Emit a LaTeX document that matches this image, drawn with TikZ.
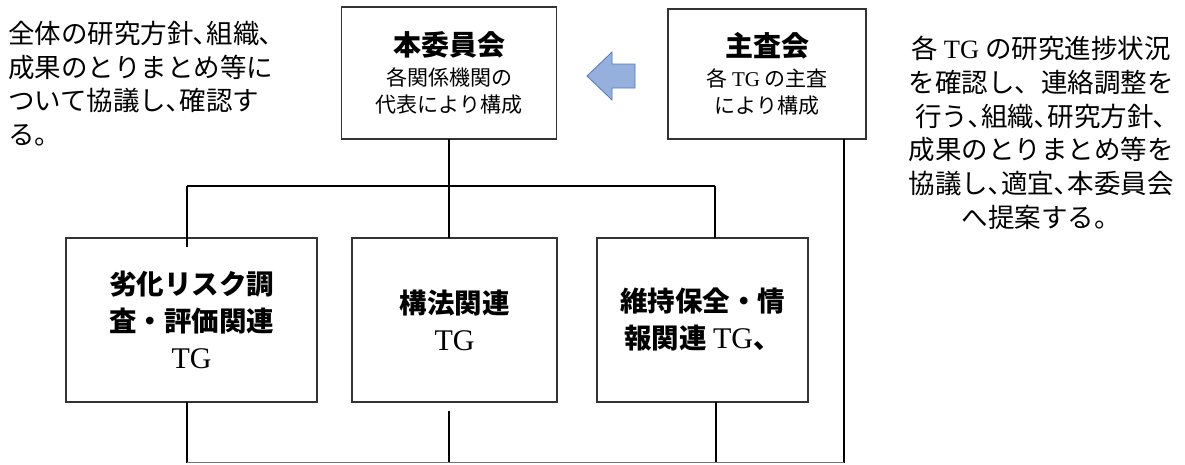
\documentclass[tikz,border=0pt]{standalone}
\usepackage{fontspec}
\setmainfont{Liberation Serif}
\newfontfamily\jp{Noto Sans CJK JP}
\newcommand\tgx{{\rmfamily\mdseries TG}}
\newcommand\tgbig{{\rmfamily\mdseries\fontsize{30}{37}\selectfont TG}}
\definecolor{arrfill}{RGB}{150,176,222}
\definecolor{arrline}{RGB}{80,120,196}
\begin{document}
\begin{tikzpicture}[x=1pt,y=-1pt,
  box/.style={draw=black!80, line width=1.4pt, inner sep=0pt, outer sep=0pt, align=center},
  tgbox/.style={box, minimum height=164pt, font=\fontsize{27.5}{37}\selectfont\jp\bfseries},
  topbox/.style={box, font=\fontsize{21}{27}\selectfont\jp},
  conn/.style={draw=black, line width=1.9pt},
  para/.style={inner sep=0pt, font=\fontsize{26.5}{33.7}\selectfont\jp}
]
\useasboundingbox (0,0) rectangle (1185,464);

% top boxes
\node[topbox, minimum width=215pt, minimum height=132pt] (hon) at (449,73)
  {{\fontsize{28}{28}\selectfont\bfseries 本委員会}\\[3pt]各関係機関の\\代表により構成};
\node[topbox, minimum width=198pt, minimum height=130pt] (shusa) at (767,74)
  {{\fontsize{28}{28}\selectfont\bfseries 主査会}\\[3pt]各 \tgx{} の主査\\により構成};

% arrow
\draw[fill=arrfill, draw=arrline, line width=0.8pt, line join=miter]
  (587,76) -- (612,52) -- (612,64) -- (635,64) -- (635,88) -- (612,88) -- (612,100) -- cycle;

% TG boxes
\node[tgbox, minimum width=251pt] (tgA) at (191.5,320) {劣化リスク調\\査・評価関連\\\tgbig};
\node[tgbox, minimum width=205pt] (tgB) at (454.5,320) {構法関連\\\tgbig};
\node[tgbox, minimum width=211pt] (tgC) at (702.5,320) {維持保全・情\\報関連 \tgbig、};

% side texts
\node[para, anchor=north west, align=left] (left) at (8,21)
  {全体の研究方針､組織､\\成果のとりまとめ等に\\ついて協議し､確認す\\る。};
\node[para, anchor=north, align=center] (right) at (1041,36)
  {各 \tgx{} の研究進捗状況\\を確認し、連絡調整を\\行う､組織､研究方針､\\成果のとりまとめ等を\\協議し､適宜､本委員会\\へ提案する。};

% connectors
\coordinate (aT) at (187,186);
\coordinate (cT) at (715,186);
\coordinate (aIn) at (187,247);
\coordinate (bL) at (187,462.5);
\coordinate (bM) at (449,462.5);
\coordinate (bC) at (716,462.5);
\coordinate (bR) at (844,462.5);

\draw[conn] (hon.south) -- (hon.south |- tgB.north);
\draw[conn] (aT) -- (cT);
\draw[conn] (aT) -- (aIn);
\draw[conn] (cT) -- (cT |- tgC.north);
\draw[conn] ([xshift=-22pt]shusa.south east) -- (bR);
\draw[conn] (tgA.south -| bL) -- (bL);
\draw[conn] ([yshift=-9pt]tgB.south -| bM) -- (bM);
\draw[conn] (tgC.south -| bC) -- (bC);
\draw[draw=black!55, line width=1.5pt] (bL) -- (bR);
\end{tikzpicture}
\end{document}
